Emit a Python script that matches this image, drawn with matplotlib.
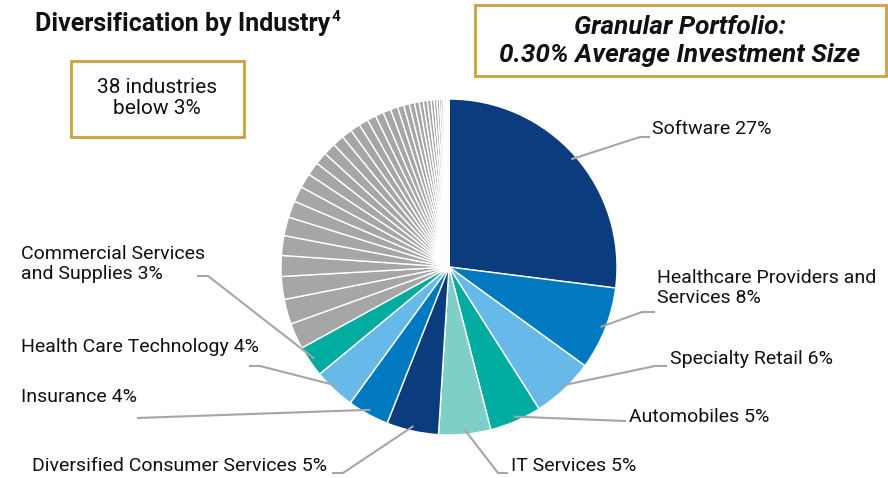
import numpy as np
import matplotlib
matplotlib.use("Agg")
import matplotlib.pyplot as plt
from matplotlib.patches import Rectangle

plt.rcParams['font.family'] = ['Roboto', 'DejaVu Sans']

# Named industries (share of portfolio, %)
industries = ["Software", "Healthcare Providers and\nServices", "Specialty Retail",
              "Automobiles", "IT Services", "Diversified Consumer Services",
              "Insurance", "Health Care Technology", "Commercial Services\nand Supplies"]
shares = [27, 8, 6, 5, 5, 5, 4, 4, 3]
colors = ["#0B3C7D", "#0079C1", "#66B9E8", "#00ABA0", "#7FCFC9",
          "#0B3C7D", "#0079C1", "#66B9E8", "#00ABA0"]

# 38 remaining industries below 3% (estimated), totalling 33%
other_shares = [2.5, 2.4, 2.2, 2.0, 1.9, 1.8, 1.6, 1.5, 1.4, 1.3, 1.2, 1.2, 1.1,
                1.0, 0.95, 0.9, 0.85, 0.8, 0.75, 0.7, 0.6, 0.55, 0.5, 0.45, 0.4,
                0.38, 0.35, 0.3, 0.27, 0.24, 0.2, 0.18, 0.15, 0.12, 0.1, 0.08,
                0.06, 0.02]
gray = "#A6A6A6"

W, H = 888, 478
fig = plt.figure(figsize=(W / 100, H / 100), dpi=100)
ax = fig.add_axes([0, 0, 1, 1])

cx, cy, R = 449, H - 267, 168
wedges, _ = ax.pie(shares + other_shares, colors=colors + [gray] * len(other_shares),
                   startangle=90, counterclock=False, center=(cx, cy), radius=R,
                   wedgeprops=dict(edgecolor="white", linewidth=1.0))
ax.set_xlim(0, W)
ax.set_ylim(0, H)
ax.set_aspect("auto")
ax.axis("off")

# label layout: (elbow x, elbow y, end x, text x, text y, ha) in pixels from top-left
layout = [
    (640, 137, 650, 652, 129, "left"),
    (642, 312, 655, 657, 288, "left"),
    (655, 366, 667, 670, 359, "left"),
    (625, 421, 626, 629, 417, "left"),
    (498, 473, 508, 511, 466, "left"),
    (343, 473, 332, 327, 466, "right"),
    (137, 418, 137, 21, 397, "left"),
    (260, 366, 249, 21, 347, "left"),
    (208, 276, 197, 21, 264, "left"),
]
line_col = "#A6A6A6"
for w, name, pct, (ex, ey, endx, tx, ty, ha) in zip(wedges, industries, shares, layout):
    mid = np.deg2rad((w.theta1 + w.theta2) / 2)
    sx = cx + 0.97 * R * np.cos(mid)
    sy = cy + 0.97 * R * np.sin(mid)
    ax.plot([sx, ex, endx], [sy, H - ey, H - ey], color=line_col, lw=1.5,
            solid_capstyle="butt", zorder=3)
    ax.text(tx, H - ty, f"{name} {pct}%", ha=ha, va="center", fontsize=14,
            color="#111111", linespacing=1.15)

# title with superscript footnote
title = ax.text(35, H - 24, "Diversification by Industry", fontsize=18,
                fontweight="bold", ha="left", va="center", color="#111111")
fig.canvas.draw()
bb = title.get_window_extent()
ax.text(bb.x1 + 1, H - 17, "4", fontsize=11, fontweight="bold", ha="left",
        va="center", color="#111111")

gold = "#C9A23A"
ax.add_patch(Rectangle((71, H - 137), 173, 76, fill=False, edgecolor=gold, lw=2))
ax.text(157, H - 98, "38 industries\nbelow 3%", ha="center", va="center",
        fontsize=15, color="#111111", linespacing=1.1)

ax.add_patch(Rectangle((475, H - 76), 411, 71, fill=False, edgecolor=gold, lw=2))
ax.text(680, H - 41, "Granular Portfolio:\n0.30% Average Investment Size", ha="center",
        va="center", fontsize=18.8, fontstyle="italic", fontweight="bold",
        color="#111111", linespacing=1.2)

fig.savefig("out.png", dpi=100)
